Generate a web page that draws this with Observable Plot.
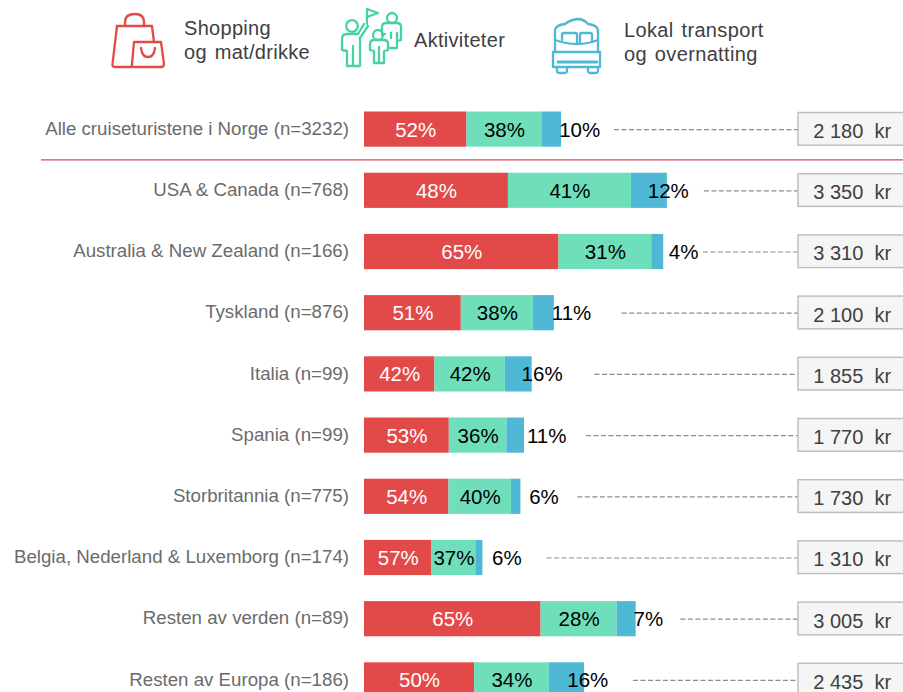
<!DOCTYPE html>
<html><head><meta charset="utf-8">
<script src="https://cdn.jsdelivr.net/npm/d3@7"></script>
<script src="https://cdn.jsdelivr.net/npm/@observablehq/plot@0.6"></script>
<style>
html,body{margin:0;padding:0;background:#fff;overflow:hidden;width:903px;height:692px}
body{font-family:"Liberation Sans",Arial,sans-serif}
#legend{position:relative;width:903px;height:96px}
#legend svg{position:absolute;left:0;top:0}
#legend div{position:absolute;color:#404040;font-size:20px;line-height:24px;word-spacing:2px;letter-spacing:.3px;white-space:nowrap}
#chart svg{display:block;overflow:hidden}
</style></head><body>
<div id="legend">
<svg width="903" height="96" fill="none" stroke-width="2.3" stroke-linejoin="round" stroke-linecap="round">
 <g stroke="#e24a4a">
  <path d="M132 67H115Q112 67 112.5 64L117 26H152L154 42"/>
  <path d="M125 26V22Q125 14 135 14Q144 14 144 22V26"/>
  <path d="M134 42H161L164 64Q164 67 161 67H135Q131 67 132 64Z"/>
  <path d="M141 48Q142 57 148 57Q154 57 155 48"/>
 </g>
 <g stroke="#45d3a5">
  <path d="M367 24V9L378 13L367 17"/>
  <circle cx="352" cy="26" r="5.8"/>
  <path d="M368 26L360 38V66H347V51L342 50V39Q342 34 347 34H358L364 24M353 46V66"/>
  <circle cx="392" cy="18" r="5"/>
  <path d="M385 34L382 35V27Q382 23 386 23H397Q401 23 401 27V40L397 41V33M397 41V48H390M391 33V38"/>
  <circle cx="378" cy="35" r="5"/>
  <path d="M370 50V44Q370 40 374 40H384Q388 40 388 44V50L384 51V63H374V51ZM379 47V63"/>
 </g>
 <g stroke="#4fb8d4">
  <path d="M555 52V30Q556 25 565 24Q570 20 577 19Q584 19 588 24Q597 25 598 30V52"/>
  <path d="M555 40Q566 44 577 44Q588 44 598 40"/>
  <path d="M562 40V35Q562 33 564 33H575Q577 33 577 35V43M580 43V35Q580 33 582 33H590Q592 33 592 35V41"/>
  <path d="M553 52H600V67H553ZM557 67V71Q557 73 560 73H564Q567 73 567 71V67M588 67V71Q588 73 591 73H595Q598 73 598 71V67"/>
  <path d="M558 62H597" stroke-width="2.8"/>
 </g>
</svg>
<div style="left:184px;top:16px">Shopping<br>og mat/drikke</div>
<div style="left:414px;top:28px">Aktiviteter</div>
<div style="left:624px;top:18px;letter-spacing:.35px">Lokal transport<br>og overnatting</div>
</div>
<div id="chart"></div>
<script>
const categories = ["Alle cruiseturistene i Norge (n=3232)","USA & Canada (n=768)","Australia & New Zealand (n=166)","Tyskland (n=876)","Italia (n=99)","Spania (n=99)","Storbritannia (n=775)","Belgia, Nederland & Luxemborg (n=174)","Resten av verden (n=89)","Resten av Europa (n=186)"];
const shopping = [52,48,65,51,42,53,54,57,65,50];
const aktiviteter = [38,41,31,38,42,36,40,37,28,34];
const transport = [10,12,4,11,16,11,6,6,7,16];
const totalKr = [2180,3350,3310,2100,1855,1770,1730,1310,3005,2435];
const totalLabels = ["2 180  kr","3 350  kr","3 310  kr","2 100  kr","1 855  kr","1 770  kr","1 730  kr","1 310  kr","3 005  kr","2 435  kr"];
// where the third label and the leader start, in kr beyond the bar's end
const thirdLabelOffset = [200,10,220,190,110,245,255,265,135,35];
const leaderOffset = [585,410,440,750,695,685,630,710,495,540];

const boxStart = 4801, boxEnd = 5990, boxMid = 5395;
const rows = categories.map((name,i)=>{
  const t = totalKr[i], s = shopping[i]+aktiviteter[i]+transport[i];
  const a = shopping[i]/s*t, b = a+aktiviteter[i]/s*t;
  return {name,t,a,b,p1:shopping[i],p2:aktiviteter[i],p3:transport[i],lab:totalLabels[i],
          third:t+thirdLabelOffset[i],lead:t+leaderOffset[i]};
});
const fs = 20.5, pct = d=>d+"%";
const plot = Plot.plot({
  width:903,height:596,margin:0,
  style:{background:"transparent",fontFamily:'"Liberation Sans",Arial,sans-serif',overflow:"hidden"},
  x:{axis:null,domain:[0,4000],range:[364,725.6]},
  y:{axis:null,type:"band",domain:categories,range:[2.5,614.5],padding:0,round:false},
  marks:[
    Plot.barX(rows,{y:"name",x1:0,x2:"a",fill:"#e24a4a",insetTop:13,insetBottom:13}),
    Plot.barX(rows,{y:"name",x1:"a",x2:"b",fill:"#6fdfbb",insetTop:13,insetBottom:13}),
    Plot.barX(rows,{y:"name",x1:"b",x2:"t",fill:"#4fb8d4",insetTop:13,insetBottom:13}),
    Plot.ruleY([categories[0]],{y:d=>d,dy:30.2,x1:-3573,x2:6000,stroke:"#d9485f",strokeWidth:1.3}),
    Plot.ruleY(rows,{y:"name",x1:"lead",x2:boxStart,stroke:"#8c8c8c",strokeWidth:1.2,strokeDasharray:"5 2.5"}),
    Plot.barX(rows,{y:"name",x1:boxStart,x2:boxEnd,fill:"#f5f5f5",stroke:"#bfbfbf",strokeWidth:1.5,insetTop:14,insetBottom:14.5}),
    Plot.text(rows,{y:"name",x:0,text:"name",dx:-15.5,dy:-0.7,textAnchor:"end",fill:"#6b6b6b",fontSize:18.7}),
    Plot.text(rows,{y:"name",x:d=>d.a/2,text:d=>pct(d.p1),fill:"#fff",fontSize:fs,dy:0.5}),
    Plot.text(rows,{y:"name",x:d=>(d.a+d.b)/2,text:d=>pct(d.p2),fill:"#000",fontSize:fs,dy:0.5}),
    Plot.text(rows,{y:"name",x:"third",text:d=>pct(d.p3),fill:"#000",fontSize:fs,dy:0.5}),
    Plot.text(rows,{y:"name",x:boxMid,text:"lab",fill:"#404040",fontSize:20,dy:2,style:{whiteSpace:"pre"}})
  ]
});
document.getElementById("chart").appendChild(plot);
</script>
</body></html>
